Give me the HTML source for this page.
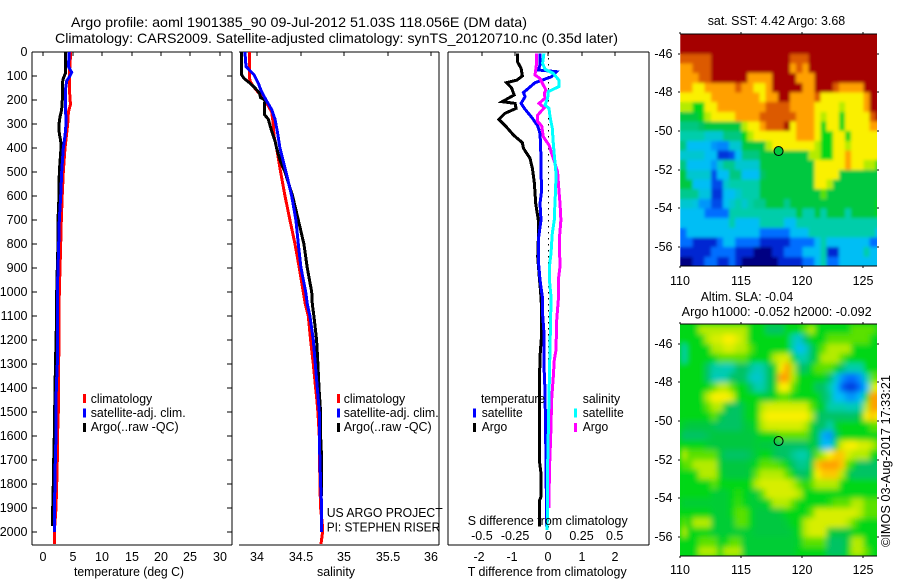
<!DOCTYPE html>
<html>
<head>
<meta charset="utf-8">
<title>Argo profile</title>
<style>
html,body{margin:0;padding:0;background:#fff;width:900px;height:580px;overflow:hidden}
svg{display:block}
text{font-family:"Liberation Sans",sans-serif;font-size:12.5px;fill:#000}
.t{font-size:14px}
</style>
</head>
<body>
<svg id="chart" xmlns="http://www.w3.org/2000/svg" width="900" height="580" viewBox="0 0 900 580">
<defs>
<clipPath id="clipSst"><rect x="680" y="34.5" width="197" height="232"/></clipPath>
<clipPath id="clipSla"><rect x="680" y="324.5" width="197" height="232"/></clipPath>
<filter id="soft" x="-5%" y="-5%" width="110%" height="110%"><feGaussianBlur stdDeviation="3"/></filter>
<filter id="softSst" x="-5%" y="-5%" width="110%" height="110%"><feGaussianBlur stdDeviation="1.6"/></filter>
</defs>
<rect width="900" height="580" fill="#fff"/>

<text class="t" x="71" y="27" textLength="456" lengthAdjust="spacingAndGlyphs">Argo profile: aoml 1901385_90 09-Jul-2012 51.03S 118.056E (DM data)</text>
<text class="t" x="55" y="43" textLength="563" lengthAdjust="spacingAndGlyphs">Climatology: CARS2009. Satellite-adjusted climatology: synTS_20120710.nc (0.35d later)</text>

<g id="axes"></g>
<g id="series"></g>
<g clip-path="url(#clipSst)">
<g id="mapSstBase"></g>
<g id="mapSst" filter="url(#softSst)"></g>
</g>
<g clip-path="url(#clipSla)">
<rect x="680" y="324.5" width="197" height="232" fill="rgb(0,215,25)"/>
<g id="mapSla" filter="url(#soft)"></g>
</g>
<g id="mapAxes"></g>

<text x="74" y="576" textLength="110" lengthAdjust="spacingAndGlyphs">temperature (deg C)</text>
<text x="317" y="576" textLength="38" lengthAdjust="spacingAndGlyphs">salinity</text>
<text x="467.7" y="576" textLength="159" lengthAdjust="spacingAndGlyphs">T difference from climatology</text>
<text x="467.7" y="525" textLength="160" lengthAdjust="spacingAndGlyphs">S difference from climatology</text>

<g>
<rect x="83" y="394" width="3" height="9" fill="#f00"/>
<text x="90.7" y="403" textLength="61.5" lengthAdjust="spacingAndGlyphs">climatology</text>
<rect x="83" y="408.5" width="3" height="9" fill="#00f"/>
<text x="90.7" y="417" textLength="95" lengthAdjust="spacingAndGlyphs">satellite-adj. clim.</text>
<rect x="83" y="423" width="3" height="9" fill="#000"/>
<text x="90.7" y="431" textLength="88" lengthAdjust="spacingAndGlyphs">Argo(..raw -QC)</text>
</g>
<g>
<rect x="337" y="394" width="3" height="9" fill="#f00"/>
<text x="343.7" y="403" textLength="61.5" lengthAdjust="spacingAndGlyphs">climatology</text>
<rect x="337" y="408.5" width="3" height="9" fill="#00f"/>
<text x="343.7" y="417" textLength="95" lengthAdjust="spacingAndGlyphs">satellite-adj. clim.</text>
<rect x="337" y="423" width="3" height="9" fill="#000"/>
<text x="343.7" y="431" textLength="88" lengthAdjust="spacingAndGlyphs">Argo(..raw -QC)</text>
</g>
<g>
<text x="481" y="403" textLength="64" lengthAdjust="spacingAndGlyphs">temperature</text>
<rect x="473" y="408.5" width="3" height="9" fill="#00f"/>
<text x="481.7" y="417" textLength="41" lengthAdjust="spacingAndGlyphs">satellite</text>
<rect x="473" y="423" width="3" height="9" fill="#000"/>
<text x="481.7" y="431" textLength="25.5" lengthAdjust="spacingAndGlyphs">Argo</text>
<text x="582.7" y="403" textLength="37.5" lengthAdjust="spacingAndGlyphs">salinity</text>
<rect x="574" y="408.5" width="3" height="9" fill="#0ff"/>
<text x="582.7" y="417" textLength="41" lengthAdjust="spacingAndGlyphs">satellite</text>
<rect x="574" y="423" width="3" height="9" fill="#f0f"/>
<text x="582.7" y="431" textLength="25.5" lengthAdjust="spacingAndGlyphs">Argo</text>
</g>

<text x="326.7" y="517" textLength="116" lengthAdjust="spacingAndGlyphs">US ARGO PROJECT</text>
<text x="326.7" y="531.5" textLength="113.5" lengthAdjust="spacingAndGlyphs">PI: STEPHEN RISER</text>

<text x="707.7" y="25" textLength="137.5" lengthAdjust="spacingAndGlyphs">sat. SST: 4.42 Argo: 3.68</text>
<text x="700.7" y="301" textLength="92.5" lengthAdjust="spacingAndGlyphs">Altim. SLA: -0.04</text>
<text x="681.7" y="316" textLength="190" lengthAdjust="spacingAndGlyphs">Argo h1000: -0.052 h2000: -0.092</text>
<text transform="translate(890,547) rotate(-90)" x="0" y="0" textLength="172" lengthAdjust="spacingAndGlyphs">©IMOS 03-Aug-2017 17:33:21</text>
</svg>

<script>
/* depth axis */
const depthTicks = [0,100,200,300,400,500,600,700,800,900,1000,1100,1200,1300,1400,1500,1600,1700,1800,1900,2000];
const tempTicks = [0,5,10,15,20,25,30];
const salTicks = [34,34.5,35,35.5,36];
const salTickLabels = ['34','34.5','35','35.5','36'];
const tDiffTicks = [-2,-1,0,1,2];
const tDiffLabels = ['-2','-1','0','1','2'];
const sDiffTicks = [-0.5,-0.25,0,0.25,0.5];
const sDiffLabels = ['-0.5','-0.25','0','0.25','0.5'];
const lonTicks = [110,115,120,125];
const latTicks = [-46,-48,-50,-52,-54,-56];

/* temperature profiles */
const tempClimDepth = [0,100,200,215,250,300,400,500,600,700,800,900,1000,1100,1200,1400,1500,1600,1700,1800,1900,2000,2050];
const tempClim = [4.64,4.4,4.5,4.64,4.25,4.13,3.67,3.39,3.2,3.05,2.94,2.82,2.7,2.65,2.65,2.54,2.54,2.4,2.37,2.26,2.14,1.86,1.86];
const tempSatDepth = [0,60,85,100,120,150,200,250,300,350,400,500,600,700,800,1000,1100,1200,1300,1400,1500,1600,1700,1800,1900,2000];
const tempSat = [4.41,4.25,4.81,4.5,3.96,3.79,3.75,3.79,3.85,3.67,3.39,3.11,2.94,2.7,2.6,2.37,2.37,2.37,2.37,2.2,2.14,2.14,2.03,1.97,1.86,1.86];
const tempArgoDepth = [0,50,90,110,130,150,200,210,240,270,300,340,370,400,500,600,700,800,900,1000,1100,1200,1400,1600,1700,1800,1900,1975];
const tempArgo = [3.79,3.79,3.73,3.39,3.22,3.22,3.22,3.16,3.11,2.82,2.65,2.7,2.94,2.99,2.7,2.65,2.48,2.48,2.37,2.26,2.26,2.14,1.97,1.86,1.75,1.68,1.58,1.58];

/* salinity profiles */
const salClimDepth = [0,50,100,120,140,160,200,250,300,350,400,500,600,700,800,900,1000,1050,1100,1200,1300,1400,1450,1500,1600,1800,1900,1980,2000,2050];
const salClim = [33.908,33.908,33.908,33.916,33.946,33.992,34.088,34.165,34.184,34.192,34.222,34.268,34.318,34.375,34.433,34.483,34.529,34.552,34.586,34.613,34.644,34.67,34.685,34.697,34.713,34.72,34.728,34.751,34.751,34.732];
const salSatDepth = [0,60,75,95,130,160,200,240,280,340,400,500,600,700,800,900,1000,1050,1100,1200,1300,1400,1500,1600,1700,1800,1900,2000];
const salSat = [33.858,33.87,33.908,33.962,34.011,34.042,34.1,34.165,34.203,34.234,34.26,34.33,34.395,34.444,34.471,34.502,34.556,34.575,34.605,34.644,34.667,34.69,34.713,34.713,34.72,34.728,34.74,34.74];
const salArgoDepth = [0,50,95,110,130,150,170,190,200,225,260,280,330,370,400,450,500,600,700,800,900,1000,1050,1100,1200,1300,1400,1500,1600,1700,1850];
const salArgo = [33.816,33.816,33.82,33.847,33.916,33.973,34.023,34.038,34.088,34.08,34.08,34.126,34.165,34.203,34.222,34.26,34.318,34.406,34.471,34.536,34.575,34.625,34.632,34.651,34.682,34.697,34.709,34.728,34.728,34.74,34.74];

/* differences from climatology */
const dtArgoDepth = [6,40,68,100,117,128,151,179,207,214,235,256,281,308,346,378,401,443,485,547,631,700,783,853,922,1006,1075,1172,1269,1408,1589,1700,1756,1853,1867,1978];
const dtArgo = [-0.93,-0.93,-0.82,-0.78,-0.95,-1.26,-1.1,-1.03,-1.39,-1,-0.97,-1.31,-1.49,-1.29,-1.05,-0.78,-0.75,-0.55,-0.48,-0.42,-0.38,-0.3,-0.3,-0.32,-0.28,-0.23,-0.2,-0.2,-0.25,-0.27,-0.27,-0.27,-0.22,-0.22,-0.26,-0.27];
const dtSatDepth = [6,54,75,82,103,128,169,186,214,235,276,308,339,394,506,575,631,700,783,867,950,1019,1075,1172,1311,1408,1589,1700,1978];
const dtSat = [-0.25,-0.25,-0.3,0.25,0.1,-0.4,-0.75,-0.7,-0.82,-0.72,-0.48,-0.32,-0.25,-0.23,-0.22,-0.2,-0.25,-0.22,-0.3,-0.3,-0.25,-0.18,-0.18,-0.13,-0.13,-0.1,-0.08,-0.07,-0.05];
const dsArgoDepth = [6,47,96,110,138,158,172,193,214,232,263,290,308,353,388,443,499,575,631,700,783,894,950,1033,1117,1242,1283,1353,1450,1561,1644,1742,1901];
const dsArgo = [-0.088,-0.088,-0.1,-0.063,-0.038,-0.018,-0.03,-0.025,-0.07,-0.03,-0.08,-0.08,-0.05,-0.038,0.005,0.038,0.07,0.08,0.088,0.095,0.083,0.088,0.075,0.075,0.063,0.058,0.045,0.038,0.025,0.02,0.015,0.008,0.005];
const dsSatDepth = [6,47,72,89,117,144,165,193,221,235,269,318,381,457,506,575,631,700,756,839,894,950,1019,1033,1172,1353,1728,1992];
const dsSat = [-0.033,-0.043,-0.025,0.038,0.08,0.08,0,-0.005,-0.025,0.005,0.013,0.03,0.038,0.05,0.058,0.055,0.05,0.045,0.03,0.02,0.008,0.008,0.02,0.02,0.015,0.008,-0.005,-0.008];

/* heatmap levels: 0 = navy ... 5 = green ... 10 = dark red; one row per 0.5 deg latitude, one value per 0.5 deg longitude */
const sstCells = [
[10,10,10,10,10,10,10,10,10,10,10,10,10,10,10,10,10,10,10,10,10,10,10,10,10,10,10,10,10,10,10,10,10],
[10,10,10,10,10,10,10,10,10,10,10,10,10,10,10,10,10,10,10,10,10,10,10,10,10,10,10,10,10,10,10,10,10],
[9,9,9,9,9,10,10,10,10,10,10,10,10,10,10,10,10,10,9,9,9,10,10,10,10,10,10,10,10,10,10,10,10],
[8,8,9,9,9,10,10,10,10,10,10,10,10,10,10,10,10,10,8,9,8,10,10,10,10,10,10,10,10,10,10,10,10],
[8,8,8,9,9,10,10,10,10,10,10,8,8,8,8,10,10,10,10,8,8,8,10,10,10,10,10,10,10,10,10,10,10],
[8,8,7,7,8,8,8,8,8,9,8,8,7,7,8,10,10,10,10,10,8,8,10,10,10,9,8,8,8,8,10,10,10],
[7,7,7,7,7,8,8,8,8,8,8,8,8,7,8,8,10,10,8,8,8,8,9,7,7,7,7,7,7,7,8,10,10],
[6,6,5,5,7,7,8,8,8,8,8,8,8,8,9,9,9,9,8,8,8,8,7,7,7,7,6,7,7,7,8,10,10],
[4.7,4.7,4.7,5,6,7,7,7,7,8,8,8,8,9,9,9,9,9,9,8,8,8,7,6,7,7,5,7,7,7,7,9,10],
[4.3,4.3,4.3,4.5,4.7,4.7,4.7,4.7,4.7,4.7,6,7,7,8,9,9,9,10,7,8,8,8,7,5,7,7,5,7,7,7,7,8,8],
[4,4,4,4,3.5,3.5,3.5,4.3,4.3,4.3,5,6,7,7,7,7,7,7,7,8,8,8,7,5,5,7,7,5,7,7,7,7,7],
[4.3,3,3,3,3,2.5,2.3,2.3,3.5,3.5,4.7,4.7,4.7,4.7,6,7,7,7,7,7,7,7,6,5,5,7,7,6,7,7,7,7,7],
[3.5,3.5,3.5,3.5,3,3,1.2,1.2,1.5,3,4.3,4.3,4.3,4.7,4.7,4.7,4.7,4.7,4.7,4.7,4.7,6,6,5,5,7,7,8,7,7,7,7,7],
[4.3,3,3,3,3,2.5,3.5,4.2,4.2,3.5,3.5,3.5,3.5,4.7,4.7,4.7,4.7,4.7,4.7,4.7,4.7,4.7,7,7,7,7,7,8,7,7,6,6,5],
[4.7,3.5,3.5,3.5,3.5,1.5,3,3,4.3,4.3,3,3,3,4.5,4.7,4.7,4.7,4.7,4.7,4.7,4.7,4.7,7,7,7,7,4.7,4.7,4.7,4.7,4.7,4.7,4.7],
[4.7,4.7,3,3,3,1.5,1.5,3.5,4,4,4,4,4,4.7,4.7,4.7,4.7,4.7,4.7,4.7,4.7,4.7,7,7,6,4.7,4.7,4.7,4.7,4.7,4.7,4.7,4.7],
[4.2,4.2,4.2,3.3,3.3,1.2,1.2,3,3,3.5,4,4,4,4.7,4.7,4.7,4.7,4.7,4.7,4.7,4.7,4.7,4.7,5.5,4.7,4.7,4.7,4.7,4.7,4.7,4.7,4.7,4.7],
[3.5,3.5,3.3,2.5,2.5,1.5,1.5,3,3.5,4,3.5,4,4.2,4.2,4.7,4.7,4.7,4.2,4.7,4.7,4.7,4.7,4.7,4.7,4.7,4.7,4.7,4.7,4.7,4.7,4.7,4.7,5],
[3,3,3,3,2,2,2,2,4,4,4,4,4,4,4,4,4,4,4,4.7,4,4,4.7,4,4.7,4.7,4.7,4,4.7,4.7,4.7,4.7,5],
[3,3,3,3,3,3,3,3,4,3,3,3,3,4,4,4,4,3,3,4,4,4,4,4,4,4,4,4,4,4,4,4,4],
[2,3,3,3,3,3,3,3,3,3,3,3,3,2,2,2,2,2,3,3,3,4,4,4,4,4,4,4,4,4,4,4,3],
[2,2,1,1,1,1,2,3,3,2,2,2,2,1,1,1,1,1,2,2,2,2,3,4,3,3,3,3,3,3,3,2,2],
[1,1,1,1,1,2,2,2,2,1,1,1,0,0,0,1,1,2,2,2,3,3,3,4,1,1,3,3,3,3,4,3,3],
[0,0,1,1,2,2,1,1,2,1,0,0,0,0,0,0,1,1,1,1,2,2,3,4,2,2,3,3,3,3,3,3,3]
];
const slaCells = [
[5,5,5,6,6,6,6,6,6,6,6,5,5,5,4.5,4.5,4.5,5,5,5,5.5,6,5,5,5,5,5,5,5.5,5.5,5.5,5.5,5],
[5,5,5,5,6,6.5,6.5,7,7,6.5,6,5,5,5,5,5,5,5,4,3.5,4.5,5,5,5,5.5,5.5,5.5,5.5,5.5,5.5,5.5,5,5],
[4,5,5,5,5,6,6,6.5,6.5,6,6,5.5,5,5,5,5,5,5,4,3,3.5,4.5,5,5.5,6,6,6,6,5,5,5,5,5],
[4,5,5,5,5,5,5.5,5.5,5.5,5.5,5.5,5,5,5,5,6,6.5,6.5,5,4,4,4.5,5,6,6,6,5.5,5,5,5,5,5,5],
[5,5,5,5,4.5,4,4,3.8,4,4.5,4.5,4.2,3.8,4,4.5,5,7,8,6,4.5,4.5,5,5.5,5.5,5.5,5,4.5,4,4,4,5,5,5],
[5,5,5,5,4.5,3.8,3.8,4,4.5,4.5,4.5,3.8,3.5,3.8,4.5,4.8,8,8,6,5,5,5,5,5,4.5,3.5,2.5,2,2,2.5,4,5.5,5.5],
[5,5,5,5,5,5.5,6,6,5.5,5,5,4.5,4,4,4.5,5,7,7,5.5,5,5,5,4.5,4.5,4,3,1.8,1.3,1.3,2,3,6,7],
[5,5,5,5,6,7,7,7,6.5,5,5,5,5,4.8,4.8,5,5.5,5.5,5,5,5,5,5,4.5,4.2,3,3,2.5,2.5,3,5,8,8],
[5,5,5,5,5.5,6,6,4.8,4.5,4.5,4.8,5,5,6,6.5,6.5,6.5,6.5,6.5,6.5,6.5,5.5,5,4.8,4,4,4,3.8,3.8,4,6,8,8],
[5,5,5,5,5,5.5,4.8,4.5,4.5,4.5,4.8,5,5,6.5,7,7,7,7,7,7,7,6,4.5,4.5,4.5,4.5,4.5,4.5,4.5,4.7,7,7.5,7],
[4.8,4.7,4.7,4.7,4.7,4.6,4.5,4.5,4.5,4.5,4.7,4.8,5,6,6.5,6.5,6.5,6.5,6.5,6.5,6,5,4.5,4.5,4,4.8,5,5,5,5,5,5.5,5.5],
[4.5,4.5,4.5,4.5,4.6,4.7,4.7,4.7,4.7,4.7,4.7,4.7,4.8,5,5,5,5.5,5.5,5.5,5.5,5.5,4.8,4.5,2.8,2.5,4.5,5,5,5,5,5,5,5],
[5,5,5,5,4.8,4.7,4.7,4.7,4.7,4.7,4.7,4.7,4.8,4.7,4.7,4.6,4.5,4.5,4.5,4.5,4.5,4.8,4.5,3,3,5,6.5,7,7,6.5,6.5,6,5.5],
[6,5.5,5.5,5.5,5.5,5.5,4.8,4.5,4.5,4.5,4.5,4.6,4.8,5,5,4.6,4.5,4.5,4.2,4,4,4.6,5.5,6,7,7.5,7.5,6.5,6,6,6,5,5],
[5.5,5.5,6,6,6,6,4.8,4.7,4.7,4.7,4.7,4.8,5,5.5,5.5,5.5,5.3,5,4.5,4.2,4.2,4.8,7.5,8,8,8,7.5,5.5,5,4.5,4.5,4.5,4.5],
[5,5,5,6,6,6,5,4.7,4.7,4.7,4.7,4.8,5.5,6,6,6,6,5.5,5,4.5,4.5,5,7,7.5,7.5,7.5,6,4.8,4.5,4.5,4.5,4.5,4.5],
[5,5,5,5,5,5.5,5,5,5,5,5,5,6,6.5,6.5,6.5,6.5,6.5,6,5.5,5,5.5,6,6,6,6,5,5,5,5,5,5,5],
[5,5,5,5,5,4.8,4.8,4.8,5,5.2,5,4.8,4.8,5.5,6.5,6.5,6.5,6.5,6.5,6,5,5,5,5,5,5,5,5,5,5,5,5,5],
[4.8,4.8,4.8,4.8,4.8,4.8,4.8,4.8,5,5.3,5,4.8,4.8,4.8,5,6,6,6,5.5,5,5,5,5,5,5.2,5.5,5.5,5.5,6,6,5.5,5.5,5.5],
[5,5,5,5,5,4.8,4.8,4.8,5,5.5,5.5,5,4.7,4.7,4.7,4.7,4.8,5,5,5,5,5.5,6.5,6.5,6.5,6.5,6.5,6.5,6.5,6,5.5,5.5,5.5],
[5.5,5,6,6,6,4.8,4.8,4.8,4.8,5.5,5.5,5,4.7,4.7,4.7,4.7,4.7,4.8,5,5,6,6.5,6.5,6.5,6.5,6.5,6.5,6,5.5,5,5,5,5],
[6,5,5,5,5,4.8,4.8,4.8,4.8,4.8,4.8,4.8,4.7,4.7,4.7,4.7,4.7,4.7,4.8,5,6,6.5,6.5,6.5,4.8,4.7,4.7,4.7,5,5,5,5,5],
[5,5,5,5.5,5.5,5.5,4.9,5,5.5,5.5,4.8,4.8,4.8,4.8,4.8,4.8,4.8,4.8,4.8,4.9,5.5,5.5,5.5,5.5,4.5,4.5,4.5,4.8,6,6,5,5,5],
[5,5,5,6,6,6,5,6,6,6,4.8,4.8,4.8,4.8,4.8,4.8,4.8,4.8,4.8,5,5,5,5,5,4.5,4.5,4.5,5,6,6,5.5,5,5]
];
const floatLon = [118.056];
const floatLat = [-51.03];
const floatLevel = [4.7];

/* axis functions */
function yDepth(d){return 52+0.24*d;}
function xTemp(t){return 43.4+5.88*t;}
function xSal(s){return 257.3+87*(s-34);}
function xDT(t){return 548.3+33.2*t;}
function xDS(s){return 548.3+132.8*s;}
function xLon(l){return 680.3+12.2*(l-110);}
function yLatSst(l){return 34.5+19.33*(-45-l);}
function yLatSla(l){return 324.5+19.33*(-45-l);}

const stops = [[0,0,0,130],[1,0,40,210],[2,0,110,255],[3,0,190,245],[4,0,205,170],[4.5,0,195,100],[4.7,0,200,65],[5,0,215,25],[5.5,90,225,0],[6,180,235,0],[7,250,240,0],[8,255,160,0],[9,220,90,0],[10,165,0,0]];
function levelColor(v){
  for(let i=1;i<stops.length;i++){
    if(v<=stops[i][0]){
      const a=stops[i-1],b=stops[i],f=(v-a[0])/(b[0]-a[0]);
      return 'rgb('+Math.round(a[1]+f*(b[1]-a[1]))+','+Math.round(a[2]+f*(b[2]-a[2]))+','+Math.round(a[3]+f*(b[3]-a[3]))+')';
    }
  }
  return 'rgb(165,0,0)';
}

const NS='http://www.w3.org/2000/svg';
function mk(parent,tag,attrs,txt){
  const el=document.createElementNS(NS,tag);
  for(const k in attrs)el.setAttribute(k,attrs[k]);
  if(txt!==undefined)el.textContent=txt;
  parent.appendChild(el);
  return el;
}
const axes=document.getElementById('axes');
const seriesG=document.getElementById('series');
const mapAxes=document.getElementById('mapAxes');

function seg(parent,x1,y1,x2,y2){
  const el=mk(parent,'line',{x1:x1,y1:y1,x2:x2,y2:y2,stroke:'#000','stroke-width':1,'shape-rendering':'crispEdges'});
  
  
  return el;
}
function label(parent,x,y,anchor,s){
  const el=mk(parent,'text',{x:x,y:y,'text-anchor':anchor},s);
  
  
  return el;
}

const T=52,B=545;
/* temperature panel */
seg(axes,32,T,232,T);seg(axes,32,B,232,B);seg(axes,32,T,32,B);seg(axes,232,T,232,B);
depthTicks.forEach(function(d){
  const y=Math.round(yDepth(d));
  seg(axes,32,y,37,y);seg(axes,227,y,232,y);
  label(axes,27.5,y+4,'end',String(d));
});
tempTicks.forEach(function(t){
  const x=Math.round(xTemp(t));
  seg(axes,x,T,x,T+4);
  label(axes,x,561,'middle',String(t));
});
/* salinity panel: no left spine */
seg(axes,239,T,439,T);seg(axes,239,B,439,B);seg(axes,439,T,439,B);
salTicks.forEach(function(s,i){
  const x=Math.round(xSal(s));
  seg(axes,x,T,x,T+4);
  label(axes,x,561,'middle',salTickLabels[i]);
});
/* difference panel */
seg(axes,448,T,649,T);seg(axes,448,B,649,B);seg(axes,448,T,448,B);seg(axes,649,T,649,B);
tDiffTicks.forEach(function(t,i){
  const x=Math.round(xDT(t));
  seg(axes,x,T,x,T+4);
  label(axes,x-(t<0?3:0),561,'middle',tDiffLabels[i]);
});
sDiffTicks.forEach(function(s,i){
  label(axes,xDS(s),540,'middle',sDiffLabels[i]);
});
const zero=mk(axes,'line',{x1:xDT(0),y1:T,x2:xDT(0),y2:yDepth(2000),stroke:'#000','stroke-width':1,'stroke-dasharray':'1.5 4.5','shape-rendering':'crispEdges'});



function profile(depths,values,xf,color,name){
  let pts=[];
  for(let i=0;i<depths.length;i++)pts.push(xf(values[i]).toFixed(1)+','+yDepth(depths[i]).toFixed(1));
  const el=mk(seriesG,'polyline',{points:pts.join(' '),fill:'none',stroke:color,'stroke-width':3,'stroke-linejoin':'miter','shape-rendering':'crispEdges'});
  
  
}
profile(tempClimDepth,tempClim,xTemp,'#f00','temperature-climatology-line');
profile(tempArgoDepth,tempArgo,xTemp,'#000','temperature-argo-line');
profile(tempSatDepth,tempSat,xTemp,'#00f','temperature-satellite-line');
profile(salClimDepth,salClim,xSal,'#f00','salinity-climatology-line');
profile(salArgoDepth,salArgo,xSal,'#000','salinity-argo-line');
profile(salSatDepth,salSat,xSal,'#00f','salinity-satellite-line');
profile(dtArgoDepth,dtArgo,xDT,'#000','t-difference-argo-line');
profile(dtSatDepth,dtSat,xDT,'#00f','t-difference-satellite-line');
profile(dsArgoDepth,dsArgo,xDS,'#f0f','s-difference-argo-line');
profile(dsSatDepth,dsSat,xDS,'#0ff','s-difference-satellite-line');

function drawMap(groupId,cells,yf,name){
  const g=document.getElementById(groupId);
  cells.forEach(function(row,r){
    row.forEach(function(v,c){
      const x0=xLon(110+0.5*c),x1=xLon(110+0.5*(c+1));
      const y0=yf(-45-0.5*r),y1=yf(-45-0.5*(r+1));
      const el=mk(g,'rect',{x:x0.toFixed(1),y:y0.toFixed(1),width:(x1-x0+0.4).toFixed(1),height:(y1-y0+0.4).toFixed(1),fill:levelColor(v),'shape-rendering':'crispEdges'});
      
      
    });
  });
}
drawMap('mapSstBase',sstCells,yLatSst,'sst-cell');
drawMap('mapSst',sstCells,yLatSst,'sst-cell-smooth');
drawMap('mapSla',slaCells,yLatSla,'sla-cell');

function mapFrame(yf,top,bottom,lblY){
  seg(mapAxes,680,top,877,top);seg(mapAxes,680,bottom,877,bottom);
  lonTicks.forEach(function(l){
    const x=Math.round(xLon(l));
    seg(mapAxes,x,top-2,x,top);seg(mapAxes,x,bottom,x,bottom+2);
    label(mapAxes,x,lblY,'middle',String(l));
  });
  latTicks.forEach(function(l){
    const y=Math.round(yf(l));
    seg(mapAxes,678,y,680,y);seg(mapAxes,877,y,879,y);
    label(mapAxes,672.5,y+4,'end',String(l));
  });
}
mapFrame(yLatSst,34,266,285);
mapFrame(yLatSla,324,556,574);

const mk1=mk(mapAxes,'circle',{cx:xLon(floatLon[0]),cy:yLatSst(floatLat[0]),r:4.5,fill:levelColor(floatLevel[0]),stroke:'#000','stroke-width':1});


const mk2=mk(mapAxes,'circle',{cx:xLon(floatLon[0]),cy:yLatSla(floatLat[0]),r:4.5,fill:'none',stroke:'#000','stroke-width':1});


</script>
</body>
</html>
